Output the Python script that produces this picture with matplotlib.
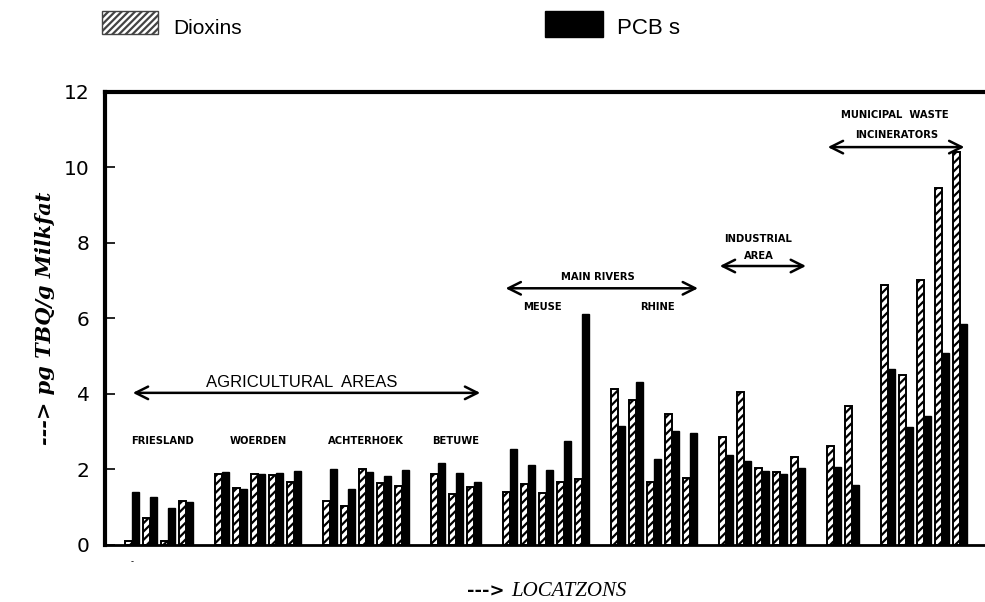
import matplotlib
matplotlib.use("Agg")
import matplotlib.pyplot as plt
from matplotlib.patches import Rectangle

# pg TEQ per g milkfat, one pair (dioxins, PCBs) per farm, grouped by region
friesland_dioxin = [0.10, 0.71, 0.10, 1.17]
friesland_pcb = [1.40, 1.27, 0.97, 1.13]
woerden_dioxin = [1.87, 1.52, 1.87, 1.85, 1.68]
woerden_pcb = [1.94, 1.49, 1.87, 1.92, 1.96]
achterhoek_dioxin = [1.17, 1.03, 2.01, 1.64, 1.56]
achterhoek_pcb = [2.01, 1.48, 1.93, 1.84, 1.99]
betuwe_dioxin = [1.88, 1.35, 1.53]
betuwe_pcb = [2.16, 1.92, 1.68]
meuse_dioxin = [1.41, 1.62, 1.37, 1.68, 1.74]
meuse_pcb = [2.55, 2.11, 1.99, 2.76, 6.13]
rhine_dioxin = [4.12, 3.85, 1.68, 3.47, 1.78]
rhine_pcb = [3.14, 4.33, 2.27, 3.03, 2.97]
industrial_dioxin = [2.86, 4.05, 2.03, 1.93, 2.32]
industrial_pcb = [2.39, 2.22, 1.95, 1.87, 2.05]
other_dioxin = [2.62, 3.68]
other_pcb = [2.06, 1.59]
incinerator_dioxin = [6.89, 4.50, 7.02, 9.45, 10.42]
incinerator_pcb = [4.67, 3.13, 3.42, 5.08, 5.85]

groups = [
    ("FRIESLAND", friesland_dioxin, friesland_pcb),
    ("WOERDEN", woerden_dioxin, woerden_pcb),
    ("ACHTERHOEK", achterhoek_dioxin, achterhoek_pcb),
    ("BETUWE", betuwe_dioxin, betuwe_pcb),
    ("MEUSE", meuse_dioxin, meuse_pcb),
    ("RHINE", rhine_dioxin, rhine_pcb),
    ("", industrial_dioxin, industrial_pcb),
    ("", other_dioxin, other_pcb),
    ("", incinerator_dioxin, incinerator_pcb),
]

plt.rcParams['hatch.linewidth'] = 1.6

fig = plt.figure(figsize=(9.85, 6.02), dpi=100)
ax = fig.add_axes([0.1066, 0.0947, 0.8934, 0.7525])

w = 0.38
slot = 0
centres = {}
for name, diox, pcb in groups:
    xs = list(range(slot, slot + len(diox)))
    ax.bar([x - w / 2 for x in xs], diox, width=w, color="white", edgecolor="black",
           hatch="////", linewidth=1.4, zorder=2)
    ax.bar([x + w / 2 for x in xs], pcb, width=w, color="black", edgecolor="black",
           linewidth=1.0, zorder=2)
    centres[name or slot] = (xs[0] + xs[-1]) / 2
    slot += len(diox) + 1

ax.set_xlim(-1.5, 47.39)
ax.set_ylim(0, 12)
ax.set_yticks(range(0, 13, 2))
ax.tick_params(axis="y", direction="in", length=7, width=1.2, labelsize=14.5, pad=11)
ax.set_xticks([])
for lab in ax.get_yticklabels():
    lab.set_family("DejaVu Sans")
ax.spines["right"].set_visible(False)
ax.spines["top"].set_linewidth(3)
ax.spines["left"].set_linewidth(3)
ax.spines["bottom"].set_linewidth(2)

ax.text(0, -0.45, "-", fontsize=6, ha="center", va="center")

lab_kw = dict(fontsize=7.2, fontweight="bold", ha="center", va="center",
              family=["Liberation Sans Narrow", "DejaVu Sans"])
ax.text(centres["FRIESLAND"] + 0.17, 2.75, "FRIESLAND", **lab_kw)
for name in ["WOERDEN", "ACHTERHOEK", "BETUWE"]:
    ax.text(centres[name], 2.75, name, **lab_kw)
ax.text(centres["MEUSE"] - 0.2, 6.3, "MEUSE", **lab_kw)
ax.text(centres["RHINE"] + 0.2, 6.3, "RHINE", **lab_kw)
ax.text(25.9, 7.1, "MAIN RIVERS", **lab_kw)
ax.text(34.8, 8.1, "INDUSTRIAL", **lab_kw)
ax.text(34.85, 7.65, "AREA", **lab_kw)
ax.text(42.4, 11.4, "MUNICIPAL  WASTE", **lab_kw)
ax.text(42.5, 10.85, "INCINERATORS", **lab_kw)
ax.text(9.4, 4.3, "AGRICULTURAL  AREAS", fontsize=12, ha="center", va="center",
        family="Liberation Sans")

arrow = dict(arrowstyle="<->, head_length=0.9, head_width=0.45", lw=1.8, color="black")
for x0, x1, y in [(-0.11, 19.5, 4.03), (20.6, 31.6, 6.8), (32.5, 37.6, 7.39), (38.5, 46.4, 10.54)]:
    ax.annotate("", xy=(x0, y), xytext=(x1, y), arrowprops=arrow)

# legend
fig.patches.append(Rectangle((102 / 985, 1 - 34 / 602), 56 / 985, 23 / 602, transform=fig.transFigure,
                             facecolor="white", edgecolor="#444444", hatch="/////", linewidth=1.0))
fig.text(173 / 985, 1 - 29 / 602, "Dioxins", fontsize=15, va="center", family="Liberation Sans")
fig.patches.append(Rectangle((545 / 985, 1 - 37 / 602), 58 / 985, 26 / 602, transform=fig.transFigure,
                             facecolor="black", edgecolor="black", linewidth=1.0))
fig.text(617 / 985, 1 - 29 / 602, "PCB s", fontsize=16, va="center", family="Liberation Sans")

fig.text(45 / 985, 1 - 318 / 602, "---> pg TBQ/g Milkfat", rotation=90, ha="center", va="center",
         fontsize=15, fontweight="bold", fontstyle="italic", family="DejaVu Serif")
fig.text(467 / 985, 1 - 592 / 602, "--->", fontsize=13, fontweight="bold", va="center",
         family="DejaVu Sans")
fig.text(511 / 985, 1 - 592 / 602, "LOCATZONS", fontsize=15, fontstyle="italic", va="center",
         family="Liberation Serif")

fig.savefig("out.png", dpi=100)
